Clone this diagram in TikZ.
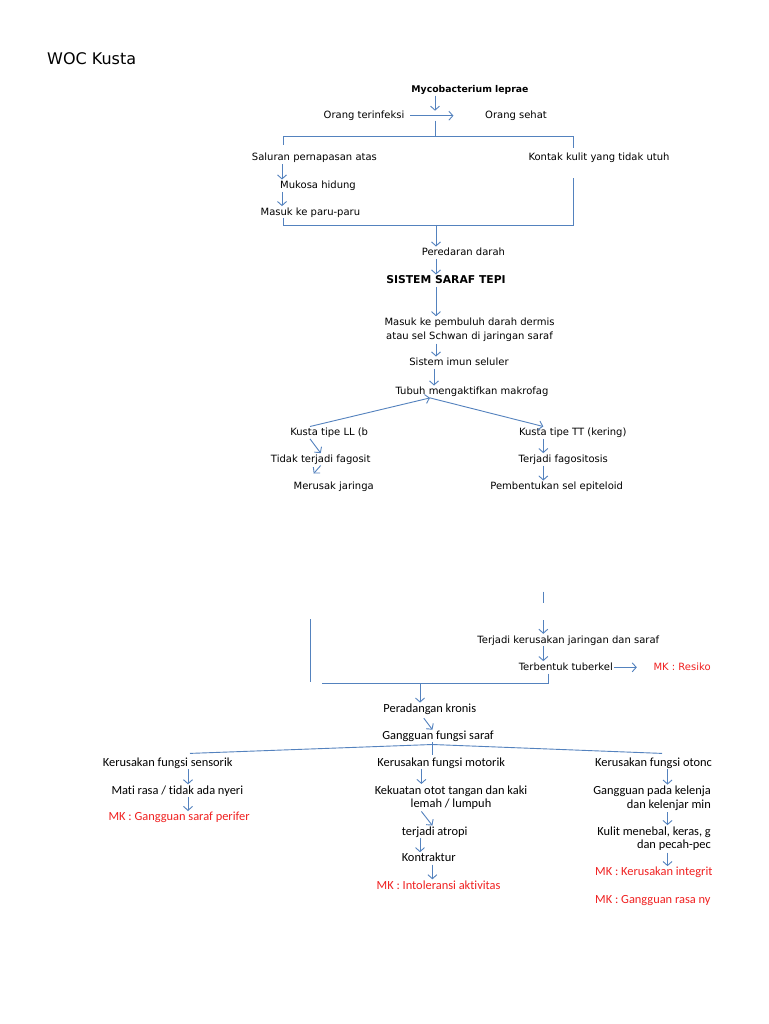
\documentclass[tikz,border=0pt]{standalone}
\usepackage{fontspec}
\setmainfont{DejaVu Sans}
\newfontfamily\lowfont[Ligatures=NoCommon]{Carlito}
\usetikzlibrary{arrows.meta}
\definecolor{wocblue}{RGB}{84,130,190}
\definecolor{mkred}{RGB}{240,32,32}
\tikzset{
  upf/.style={inner sep=1.5pt,font=\fontsize{10}{14.3}\selectfont},
  up/.style={upf,text height=7.5pt,text depth=1.5pt},
  upb/.style={up,font=\fontsize{9.3}{12}\selectfont\bfseries},
  lowf/.style={inner sep=1.5pt,font=\lowfont\fontsize{12.4}{13.5}\selectfont},
  low/.style={lowf,text height=8pt,text depth=1pt},
  mk/.style={text=mkred},
  ln/.style={draw=wocblue,line width=0.9pt},
  arr/.style={ln,-{Straight Barb[length=4pt,width=9pt]}}
}
\begin{document}
\begin{tikzpicture}[x=1pt,y=-1pt]
\fill[white] (0,0) rectangle (768,1024);
\useasboundingbox (0,0) rectangle (768,1024);

\node[anchor=west,inner sep=0,font=\fontsize{16}{19}\selectfont] (title) at (47,59) {WOC Kusta};
\node[upb] (myco) at (470,89.5) {Mycobacterium leprae};
\node[up] (inf) at (364,115.7) {Orang terinfeksi};
\node[up] (sehat) at (516,115.7) {Orang sehat};
\node[up,anchor=west] (sal) at (250.2,158) {Saluran pernapasan atas};
\node[up,anchor=west] (kontak) at (526.8,158) {Kontak kulit yang tidak utuh};
\node[up] (muk) at (318,185.7) {Mukosa hidung};
\node[up] (paru) at (310.4,212.3) {Masuk ke paru-paru};
\node[up] (per) at (463.4,252.7) {Peredaran darah};
\node[up,font=\fontsize{10.8}{13}\selectfont\bfseries] (sistem) at (446,280.7) {SISTEM SARAF TEPI};
\node[upf,align=center] (masuk) at (469.5,329.9) {Masuk ke pembuluh darah dermis\\atau sel Schwan di jaringan saraf};
\node[up] (imun) at (459,362.7) {Sistem imun seluler};
\node[up] (tubuh) at (472,391.7) {Tubuh mengaktifkan makrofag};
\node[up] (ll) at (329.2,432.7) {Kusta tipe LL (b};
\node[up] (tt) at (572.7,432.7) {Kusta tipe TT (kering)};
\node[up] (tidak) at (320.7,459.3) {Tidak terjadi fagosit};
\node[up] (fag) at (563.3,459.3) {Terjadi fagositosis};
\node[up] (merusak) at (333.7,486.7) {Merusak jaringa};
\node[up] (pemb) at (556.7,486.7) {Pembentukan sel epiteloid};
\node[up] (ker) at (568.3,640) {Terjadi kerusakan jaringan dan saraf};
\node[up] (tub) at (565.8,667.3) {Terbentuk tuberkel};

\node[low] (per2) at (429.8,708.8) {Peradangan kronis};
\node[low] (gang) at (438,735.9) {Gangguan fungsi saraf};
\node[low] (sens) at (167.7,763) {Kerusakan fungsi sensorik};
\node[low] (mot) at (441.2,763) {Kerusakan fungsi motorik};
\node[low] (mati) at (177.3,790.5) {Mati rasa / tidak ada nyeri};
\node[low,mk] (mk2) at (179.1,817.2) {MK : Gangguan saraf perifer};
\node[lowf,align=center] (kek) at (451,797.7) {Kekuatan otot tangan dan kaki\\lemah / lumpuh};
\node[low] (atr) at (434.6,831.7) {terjadi atropi};
\node[low] (kon) at (428.7,858.4) {Kontraktur};
\node[low,mk] (mk3) at (438.6,885.5) {MK : Intoleransi aktivitas};

\begin{scope}
\clip (0,0) rectangle (711,1024);
\node[up,mk,anchor=west] (mk1) at (651.8,667.3) {MK : Resiko};
\node[low,anchor=west] (oto) at (593.5,763) {Kerusakan fungsi otonc};
\node[lowf,anchor=east,align=right] (kel) at (712.5,798.4) {Gangguan pada kelenja\\dan kelenjar min};
\node[lowf,anchor=east,align=right] (kul) at (712.5,838.8) {Kulit menebal, keras, g\\dan pecah-pec};
\node[low,mk,anchor=west] (mk4) at (593.5,872.3) {MK : Kerusakan integrit};
\node[low,mk,anchor=west] (mk5) at (593.5,900) {MK : Gangguan rasa ny};
\end{scope}

\coordinate (j1) at (435,115.7);
\coordinate (tl) at (283,136);
\coordinate (tr) at (573,136);
\coordinate (bl) at (283,225);
\coordinate (br) at (573,225);
\coordinate (xa) at (436,0);
\coordinate (xb) at (434,0);
\coordinate (xc) at (282,0);
\coordinate (xd) at (543.3,0);
\coordinate (xe) at (188,0);
\coordinate (xf) at (421.4,0);
\coordinate (xg) at (420,0);
\coordinate (xh) at (432.4,0);
\coordinate (xi) at (667.5,0);
\coordinate (xll) at (310,0);
\coordinate (xtp) at (430,0);

\draw[arr] (myco.south -| j1) -- ([yshift=5pt]j1);
\draw[arr,shorten <=4pt] (inf.east) -- ([xshift=-30pt]sehat.west);
\draw[ln] ([yshift=-5pt]j1) -- (j1 |- tl);
\draw[ln] ([yshift=7pt]sal.north -| tl) -- (tl) -- (tr) -- ([yshift=4pt]kontak.north -| tr);
\draw[ln] (paru.south -| bl) -- (bl) -- (br) -- ([yshift=-14pt]kontak.south -| br);
\draw[arr] (bl -| xa) -- (per.north -| xa);

\foreach \a/\b/\c in {per/sistem/xa,sistem/masuk/xa,masuk/imun/xa,imun/tubuh/xb,
  sal/muk/xc,muk/paru/xc,tt/fag/xd,fag/pemb/xd,ker/tub/xd,sens/mati/xe,mati/mk2/xe,
  mot/kek/xf,atr/kon/xg,kon/mk3/xh,oto/kel/xi,kel/kul/xi,kul/mk4/xi}{
  \draw[arr] (\a.south -| \c) -- (\b.north -| \c);
}

\draw[arr] (ll.north -| xll) -- (tubuh.south -| xtp);
\draw[arr] (tubuh.south -| xtp) -- (tt.north -| xd);
\draw[arr] (ll.south -| xll) -- (tidak.north);
\draw[arr] (tidak.south) -- ([xshift=-20pt,yshift=7pt]merusak.north);

\coordinate (s1) at (543.3,591.7);
\coordinate (s2) at (543.3,603.3);
\draw[ln] (s1) -- (s2);
\coordinate (k0) at (543.3,620);
\draw[arr] (k0) -- (ker.north -| k0);
\coordinate (v1) at (310.7,619.3);
\coordinate (v2) at (310.7,681.7);
\draw[ln] (v1) -- (v2);
\coordinate (bb) at (548.3,683.3);
\coordinate (bbl) at (321.7,683.3);
\draw[ln] (tub.south -| bb) -- (bb) -- (bbl);
\draw[arr] (tub.east) -- ([xshift=-15pt]mk1.west);
\coordinate (xk) at (420,683.3);
\draw[arr] (xk) -- (per2.north -| xk);

\draw[arr,shorten <=4pt] (per2.south -| xf) -- (gang.north -| xh);
\coordinate (tpk) at (432.4,744.5);
\coordinate (tL) at (190,753.4);
\coordinate (tR) at (662,753.4);
\draw[ln] (tL) -- (tpk) -- (tR);
\draw[ln] (gang.south -| tpk) -- ([yshift=-10pt]tpk);
\draw[arr] (kek.south -| xf) -- (atr.north -| xh);
\end{tikzpicture}
\end{document}
